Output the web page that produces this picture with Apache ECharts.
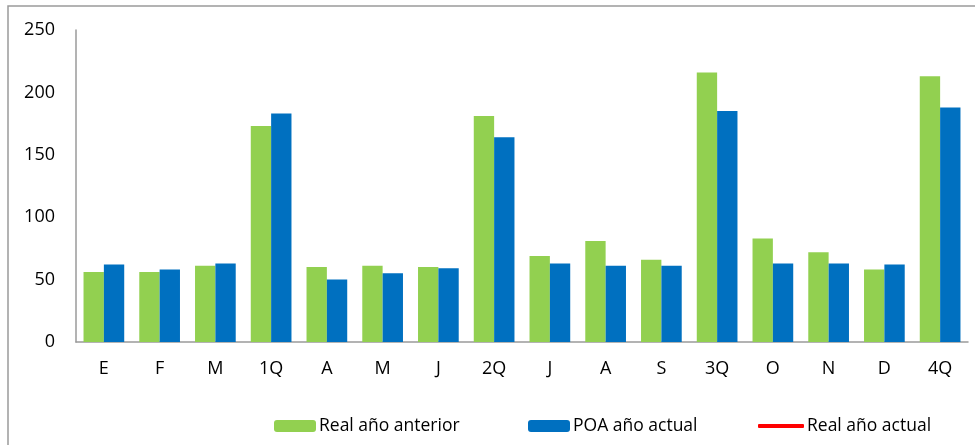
<!DOCTYPE html>
<html>
<head>
<meta charset="utf-8">
<script src="https://cdn.jsdelivr.net/npm/echarts@6/dist/echarts.min.js"></script>
<style>html,body{margin:0;padding:0;background:#fff;}#c{width:975px;height:445px;}</style>
</head>
<body>
<div id="c"></div>
<script>
const categories = ['E','F','M','1Q','A','M','J','2Q','J','A','S','3Q','O','N','D','4Q'];
const realAnterior = [56,56,61,173,60,61,60,181,69,81,66,216,83,72,58,213];
const poaActual = [62,58,63,183,50,55,59,164,63,61,61,185,63,63,62,188];
const realActual = [];
const yTicks = [0,50,100,150,200,250];

const FONT = 'Open Sans';
const chart = echarts.init(document.getElementById('c'), null, {renderer:'canvas'});
const legendCommon = {
  top: 412, itemWidth: 42, itemHeight: 12, itemGap: 4,
  textStyle: {fontFamily: FONT, fontSize: 17.5, color: '#000', padding: [0,0,0,-2]},
  selectedMode: false
};
chart.setOption({
  animation: false,
  textStyle: {fontFamily: FONT},
  graphic: [{
    type: 'rect', shape: {x: 8, y: 6, width: 1100, height: 600},
    style: {fill: 'none', stroke: '#9a9a9a', lineWidth: 1.5}, silent: true
  }],
  grid: {left: 76, right: 7, top: 30, bottom: 103, containLabel: false},
  legend: [
    Object.assign({}, legendCommon, {left: 269, data: ['Real año anterior']}),
    Object.assign({}, legendCommon, {left: 523, data: ['POA año actual']}),
    Object.assign({}, legendCommon, {left: 753, itemWidth: 46, itemHeight: 4,
      data: [{name: 'Real año actual', icon: 'roundRect'}]})
  ],
  xAxis: {
    type: 'category', data: categories,
    axisLine: {lineStyle: {color: '#9a9a9a', width: 1.5}},
    axisTick: {show: false},
    axisLabel: {color: '#000', fontSize: 18, fontFamily: FONT, margin: 18}
  },
  yAxis: {
    type: 'value', min: 0, max: 250, interval: 50,
    axisLine: {show: true, lineStyle: {color: '#9a9a9a', width: 1.5}},
    axisTick: {show: false},
    splitLine: {show: false},
    axisLabel: {color: '#000', fontSize: 18, fontFamily: FONT, margin: 21,
      formatter: v => yTicks.includes(v) ? String(v) : ''}
  },
  series: [
    {name: 'Real año anterior', type: 'bar', data: realAnterior, barGap: '0%', barCategoryGap: '27%',
     itemStyle: {color: '#92d050'}},
    {name: 'POA año actual', type: 'bar', data: poaActual,
     itemStyle: {color: '#0070c0'}},
    {name: 'Real año actual', type: 'line', data: realActual, symbol: 'none',
     itemStyle: {color: '#ff0000'}, lineStyle: {color: '#ff0000', width: 4, cap: 'round'}}
  ]
});
</script>
</body>
</html>
